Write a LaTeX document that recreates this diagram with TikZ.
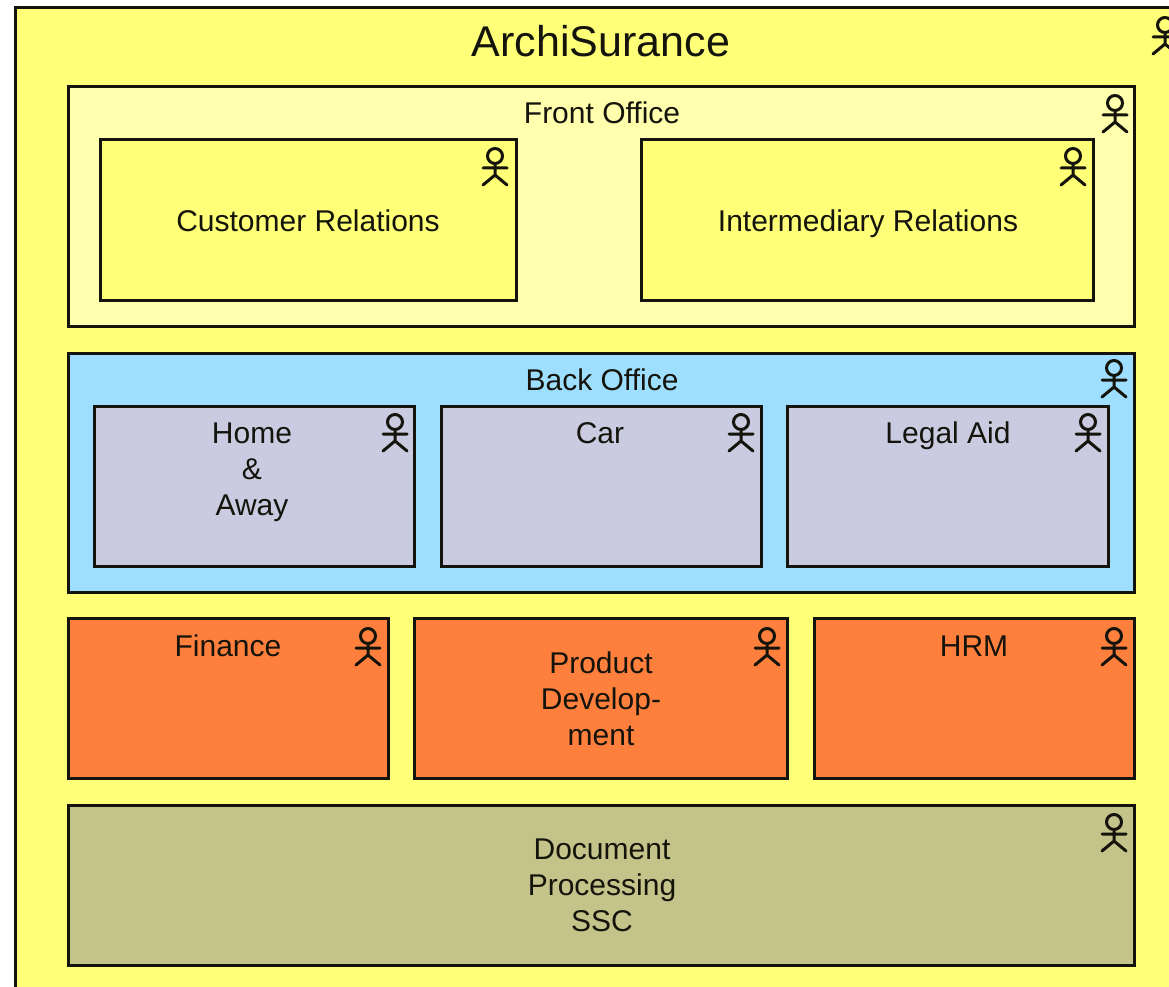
\documentclass[tikz,border=0pt]{standalone}
\usepackage{fontspec}
\setmainfont{Liberation Sans}
\definecolor{outerY}{HTML}{FFFF78}
\definecolor{frontY}{HTML}{FFFFAE}
\definecolor{innerY}{HTML}{FFFF78}
\definecolor{backB}{HTML}{9EDFFF}
\definecolor{lav}{HTML}{CACAE0}
\definecolor{orng}{HTML}{FF7F3C}
\definecolor{olive2}{HTML}{C4C48A}
\definecolor{ink}{HTML}{14140C}
\tikzset{
  box/.style={draw=ink,line width=3pt,rectangle,inner sep=0pt,outer sep=0pt,anchor=north west},
  lab/.style={font=\fontsize{30}{36}\selectfont,text=ink,inner sep=0pt,align=center},
  labone/.style={lab,text height=27pt,text depth=6pt},
  actor/.pic={
    \draw[ink,line width=3pt,line cap=round]
      (0,0) circle[radius=7.5]
      (0,7.5) -- (0,19)
      (-12,12) -- (12,12)
      (-12,29) -- (0,19) -- (12,29);
  }
}
\newcommand{\abox}[6]{%
  \pgfmathsetmacro{\bw}{#4-#2}\pgfmathsetmacro{\bh}{#5-#3}%
  \node[box,fill=#6,minimum width=\bw pt,minimum height=\bh pt] (#1) at (#2,#3) {};}
\begin{document}
\begin{tikzpicture}[x=1pt,y=-1pt]
\useasboundingbox (0,0) rectangle (1169,987);
\clip (0,0) rectangle (1169,987);
\fill[white] (0,0) rectangle (1169,987);
\abox{outer}{15}{8}{1210}{1030}{outerY}
\abox{front}{68}{87}{1134}{326}{frontY}
\abox{cust}{100}{140}{516}{300}{innerY}
\abox{inter}{641}{140}{1093}{300}{innerY}
\abox{back}{68}{353}{1134}{592}{backB}
\abox{home}{94}{406}{414}{566}{lav}
\abox{car}{441}{406}{761}{566}{lav}
\abox{legal}{787}{406}{1108}{566}{lav}
\abox{fin}{68}{618}{388}{778}{orng}
\abox{prod}{414}{618}{787}{778}{orng}
\abox{hrm}{814}{618}{1134}{778}{orng}
\abox{doc}{68}{805}{1134}{965}{olive2}
\node[lab,font=\fontsize{43}{50}\selectfont] (ltitle) at (601,41) {ArchiSurance};
\node[labone] (lfront) at (602,113) {Front Office};
\node[labone] (lcust) at (308,221) {Customer Relations};
\node[labone] (linter) at (868,221) {Intermediary Relations};
\node[labone] (lback) at (602,380) {Back Office};
\node[lab] (lhome) at (252,472) {Home\\\&\\Away};
\node[labone] (lcar) at (600,433) {Car};
\node[labone] (llegal) at (948,433) {Legal Aid};
\node[labone] (lfin) at (228,646) {Finance};
\node[lab] (lprod) at (601,699) {Product\\Develop-\\ment};
\node[labone] (lhrm) at (974,646) {HRM};
\node[lab] (ldoc) at (602,885) {Document\\Processing\\SSC};
\foreach \p in {(1165,25),(1115,103),(495,156),(1073,156),(1114,368),(395,422),(741,422),(1088,422),(368,636),(767,636),(1114,636),(1114,822)}
  \pic at \p {actor};
\end{tikzpicture}
\end{document}
